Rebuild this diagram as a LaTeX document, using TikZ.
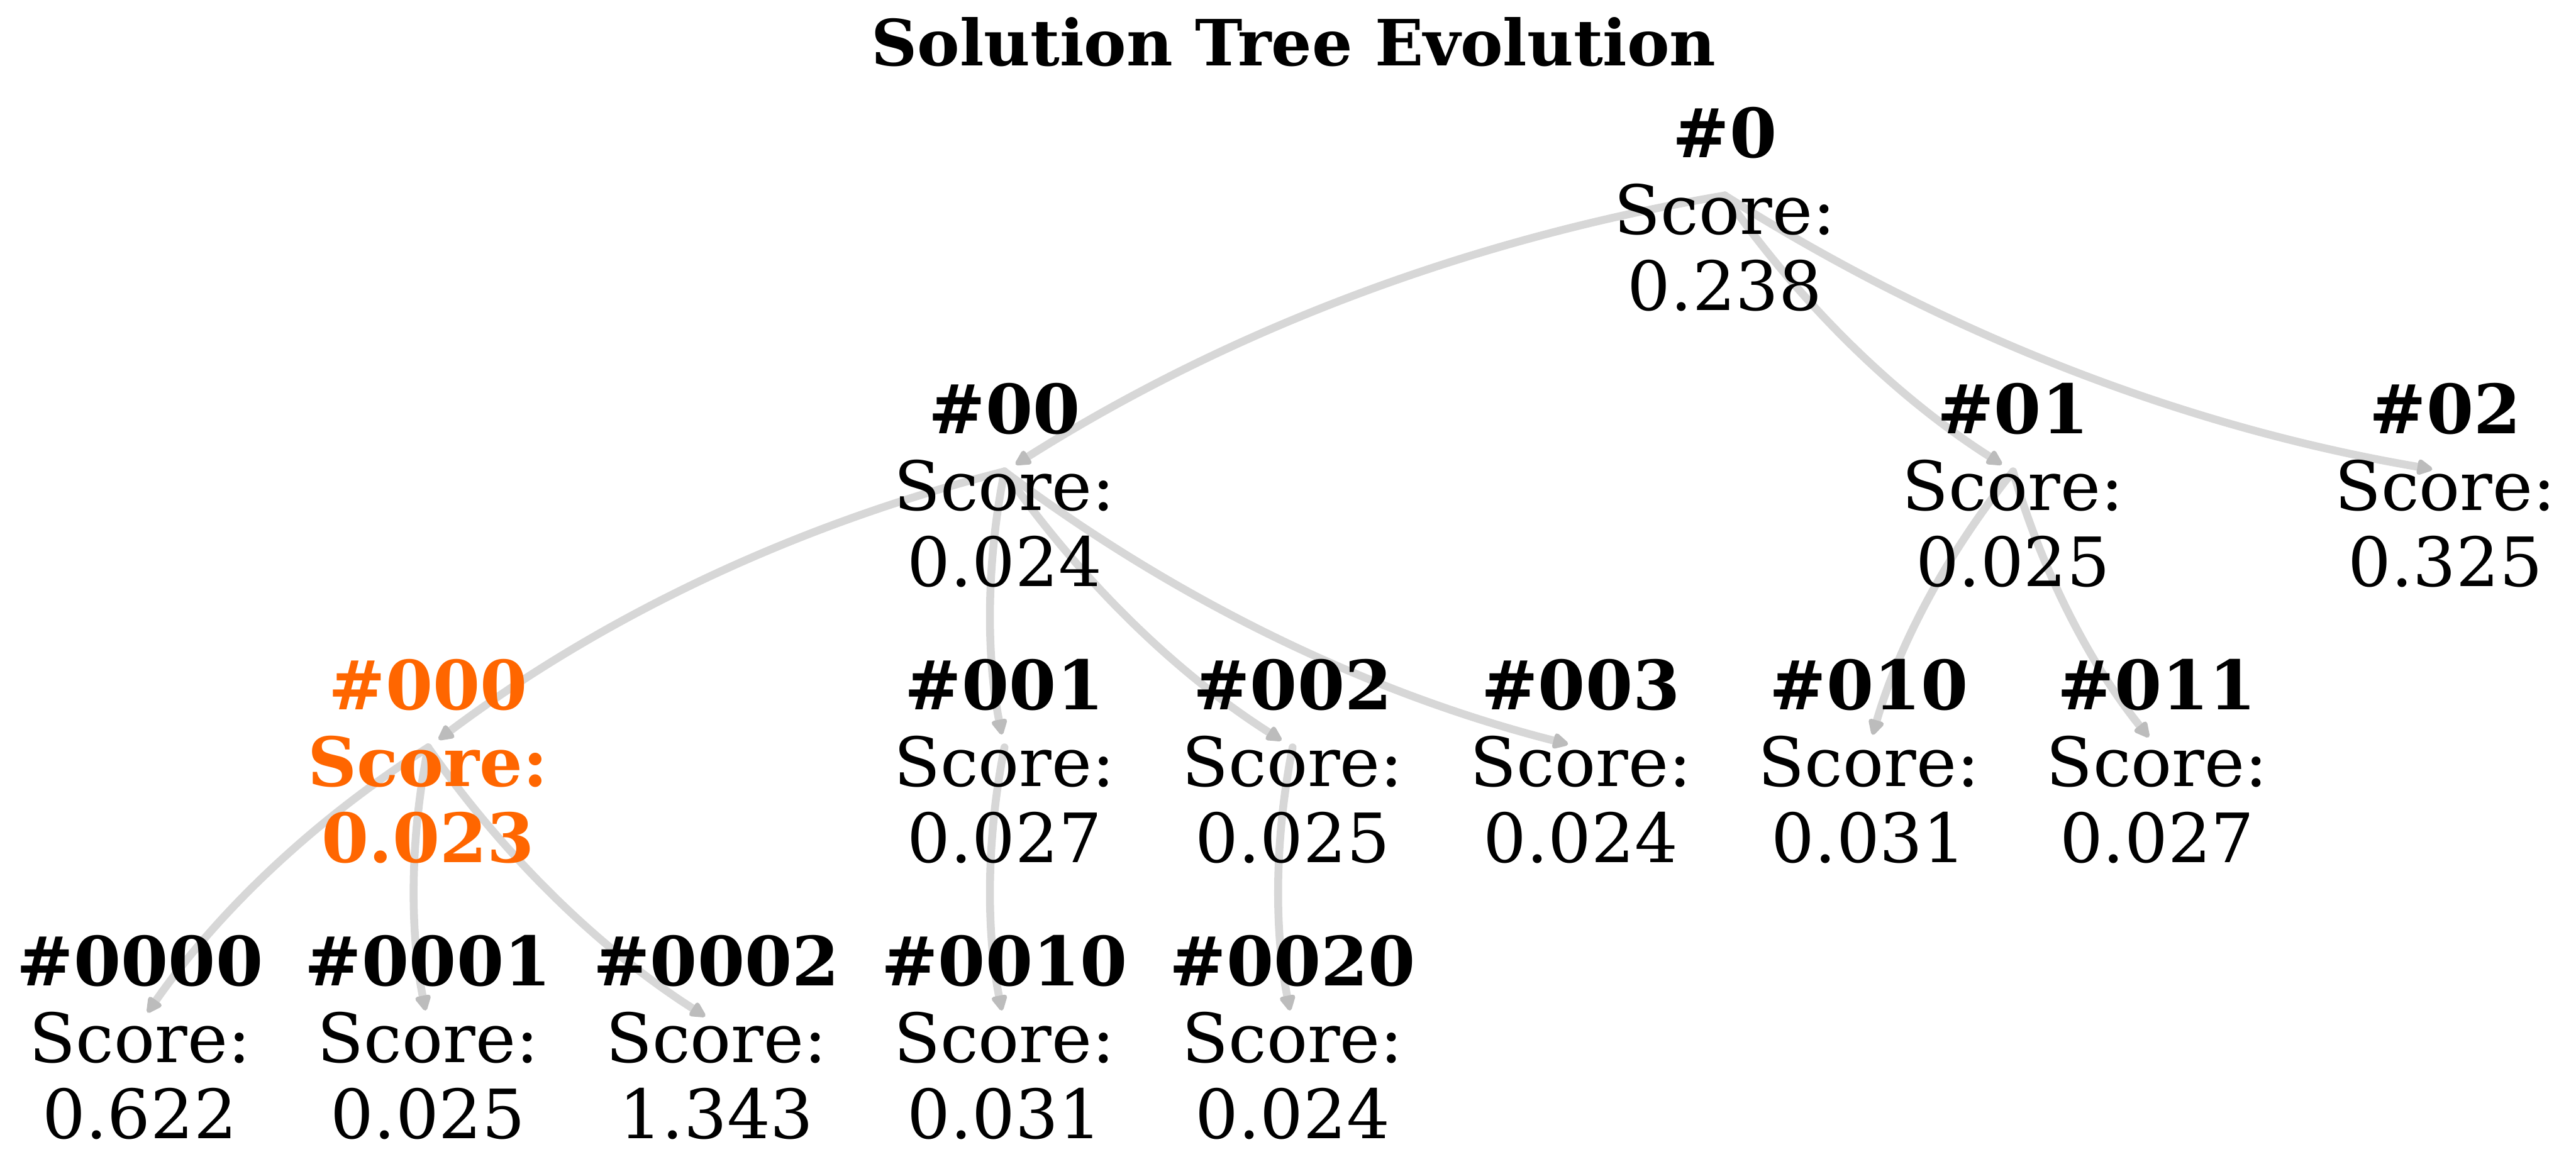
\documentclass[tikz,border=0pt]{standalone}
\usepackage{fontspec}
\setmainfont{DejaVu Serif}
\usetikzlibrary{arrows.meta,backgrounds}
\definecolor{hl}{RGB}{255,102,0}
\definecolor{edgec}{RGB}{215,215,215}
\definecolor{tipc}{RGB}{188,188,188}
\tikzset{
  lbl/.style={align=center, inner sep=0pt, font=\fontsize{20.7}{23.25}\selectfont},
  hlbl/.style={lbl, text=hl, font=\bfseries\fontsize{20.7}{23.25}\selectfont},
  conn/.style={draw=edgec, line width=2.4pt, line cap=round,
    -{Triangle[length=5.5pt,width=5.2pt,round,color=tipc]},
    shorten >=4pt, bend right=11.31, looseness=0.87},
}
\newcommand{\cn}[2]{\draw[conn] ([yshift=4.25pt]#1.center) to ([yshift=4.25pt]#2.center);}
\begin{document}
\begin{tikzpicture}[x=0.5pt,y=0.5pt]
\useasboundingbox (0,0) rectangle (1568,-711.5);
% nodes
\node[lbl] (n0)    at (1049.9,-127.5) {\textbf{\#0}\\Score:\\0.238};
\node[lbl] (n00)   at (611.4,-295.5)  {\textbf{\#00}\\Score:\\0.024};
\node[lbl] (n01)   at (1225.3,-295.5) {\textbf{\#01}\\Score:\\0.025};
\node[lbl] (n02)   at (1488.4,-295.5) {\textbf{\#02}\\Score:\\0.325};
\node[hlbl] (n000) at (260.6,-463.5)  {\#000\\Score:\\0.023};
\node[lbl] (n001)  at (611.4,-463.5)  {\textbf{\#001}\\Score:\\0.027};
\node[lbl] (n002)  at (786.8,-463.5)  {\textbf{\#002}\\Score:\\0.025};
\node[lbl] (n003)  at (962.2,-463.5)  {\textbf{\#003}\\Score:\\0.024};
\node[lbl] (n010)  at (1137.6,-463.5) {\textbf{\#010}\\Score:\\0.031};
\node[lbl] (n011)  at (1313.0,-463.5) {\textbf{\#011}\\Score:\\0.027};
\node[lbl] (n0000) at (85.2,-631.5)   {\textbf{\#0000}\\Score:\\0.622};
\node[lbl] (n0001) at (260.6,-631.5)  {\textbf{\#0001}\\Score:\\0.025};
\node[lbl] (n0002) at (436.0,-631.5)  {\textbf{\#0002}\\Score:\\1.343};
\node[lbl] (n0010) at (611.4,-631.5)  {\textbf{\#0010}\\Score:\\0.031};
\node[lbl] (n0020) at (786.8,-631.5)  {\textbf{\#0020}\\Score:\\0.024};
\node[font=\bfseries\fontsize{19.4}{23}\selectfont, anchor=base] (title) at (787.5,-40) {Solution Tree Evolution};
% edges behind the labels
\begin{scope}[on background layer]
\cn{n0}{n00}
\cn{n0}{n01}
\cn{n0}{n02}
\cn{n00}{n000}
\cn{n00}{n001}
\cn{n00}{n002}
\cn{n00}{n003}
\cn{n01}{n010}
\cn{n01}{n011}
\cn{n000}{n0000}
\cn{n000}{n0001}
\cn{n000}{n0002}
\cn{n001}{n0010}
\cn{n002}{n0020}
\end{scope}
\end{tikzpicture}
\end{document}
